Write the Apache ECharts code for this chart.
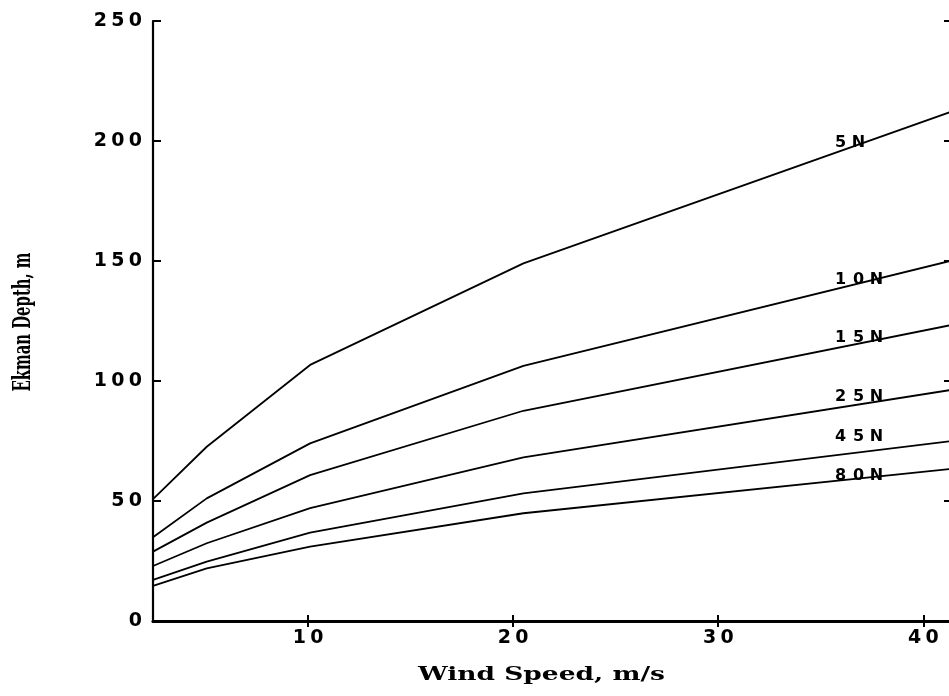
<!DOCTYPE html>
<html>
<head>
<meta charset="utf-8">
<title>Ekman Depth vs Wind Speed</title>
<script src="https://cdn.jsdelivr.net/npm/echarts@6.0.0/dist/echarts.min.js"></script>
<style>
  html, body { margin: 0; padding: 0; background: #fff; }
  #main { width: 949px; height: 696px; }
</style>
</head>
<body>
<div id="main"></div>
<script>
// wind speed (m/s) at the curve break points
var windSpeed = [2.44, 5.06, 10.1, 20.5, 41.3];
// Ekman depth (m) for each latitude
var latitudes = ['5N', '10N', '15N', '25N', '45N', '80N'];
var depth5N  = [50.8, 72.6, 106.7, 149.0, 212.0];
var depth10N = [34.9, 51.1, 74.0, 106.3, 150.0];
var depth15N = [28.9, 41.0, 60.8, 87.6, 123.2];
var depth25N = [22.9, 32.4, 47.0, 68.2, 96.2];
var depth45N = [17.1, 24.7, 36.8, 53.2, 74.9];
var depth80N = [14.6, 21.9, 31.0, 44.9, 63.3];
var depths = [depth5N, depth10N, depth15N, depth25N, depth45N, depth80N];

var xTicks = [10, 20, 30, 40];
var yTicks = [0, 50, 100, 150, 200, 250];

// where the latitude labels sit (data coords)
var labelSpeed = 35.5;
var labelDepth = [199.4, 142, 118, 93.3, 76.7, 60.4];

// wide plotter-like lettering: one fixed-width cell per character
function cells(s) {
    return s.split('').map(function (c) { return '{c|' + c + '}'; }).join('');
}
function textWidth(str, font) {
    var ctx = document.createElement('canvas').getContext('2d');
    ctx.font = font;
    return ctx.measureText(str).width;
}
function richCell(w, size) {
    return { c: { width: w, align: 'center', fontFamily: 'DejaVu Sans', fontWeight: 900,
                  fontSize: size, lineHeight: size, color: '#000' } };
}

var xTitle = 'Wind Speed, m/s';
var xTitleFont = 'bold 19px "DejaVu Serif"';
var yTitle = 'Ekman Depth, m';
var yTitleFont = 'bold 25px "DejaVu Serif"';

var series = latitudes.map(function (lat, i) {
    return {
        name: lat,
        type: 'line',
        data: windSpeed.map(function (w, j) { return [w, depths[i][j]]; }),
        showSymbol: false,
        symbol: 'none',
        lineStyle: { color: '#000', width: 1.8 },
        markPoint: {
            symbol: 'rect',
            symbolSize: 1,
            itemStyle: { color: 'rgba(0,0,0,0)' },
            label: {
                show: true,
                position: 'right',
                distance: 0,
                formatter: cells(lat),
                rich: richCell(18, 16)
            },
            data: [{ coord: [labelSpeed, labelDepth[i]] }]
        }
    };
});

var chart = echarts.init(document.getElementById('main'));
chart.setOption({
    animation: false,
    backgroundColor: '#fff',
    grid: { left: 153, top: 21, width: 797, height: 600, containLabel: false, outerBoundsMode: 'none' },
    xAxis: [{
        type: 'value', min: 2.44, max: 41.3, position: 'bottom',
        splitLine: { show: false },
        axisLine: { lineStyle: { color: '#000', width: 3 } },
        axisTick: { inside: true, length: 6, customValues: xTicks, lineStyle: { color: '#000', width: 2 } },
        axisLabel: {
            customValues: xTicks, margin: 8,
            formatter: function (v) { return cells(String(v)); },
            rich: richCell(17.5, 19)
        }
    }, {
        type: 'value', min: 2.44, max: 41.3, position: 'top',
        splitLine: { show: false },
        axisLine: { lineStyle: { color: '#000', width: 2.5 } },
        axisTick: { inside: true, length: 6, customValues: xTicks, lineStyle: { color: '#000', width: 2 } },
        axisLabel: { show: false }
    }],
    yAxis: [{
        type: 'value', min: 0, max: 250, interval: 50, position: 'left',
        splitLine: { show: false },
        axisLine: { show: true, lineStyle: { color: '#000', width: 2.2 } },
        axisTick: { show: true, inside: true, length: 8, lineStyle: { color: '#000', width: 2 } },
        axisLabel: {
            margin: 9,
            formatter: function (v) { return cells(String(v)); },
            rich: richCell(17.5, 19)
        }
    }, {
        type: 'value', min: 0, max: 250, interval: 50, position: 'right',
        splitLine: { show: false },
        axisLine: { show: true, lineStyle: { color: '#000', width: 2 } },
        axisTick: { show: true, inside: true, length: 6, lineStyle: { color: '#000', width: 2 } },
        axisLabel: { show: false }
    }],
    graphic: [{
        type: 'text',
        x: 541.5, y: 675,
        scaleX: 247 / textWidth(xTitle, xTitleFont),
        style: { text: xTitle, font: xTitleFont, fill: '#000', align: 'center', verticalAlign: 'middle' }
    }, {
        type: 'text',
        x: 23, y: 322,
        rotation: Math.PI / 2,
        scaleX: 139 / textWidth(yTitle, yTitleFont),
        style: { text: yTitle, font: yTitleFont, fill: '#000', align: 'center', verticalAlign: 'middle' }
    }],
    series: series
});
</script>
</body>
</html>
